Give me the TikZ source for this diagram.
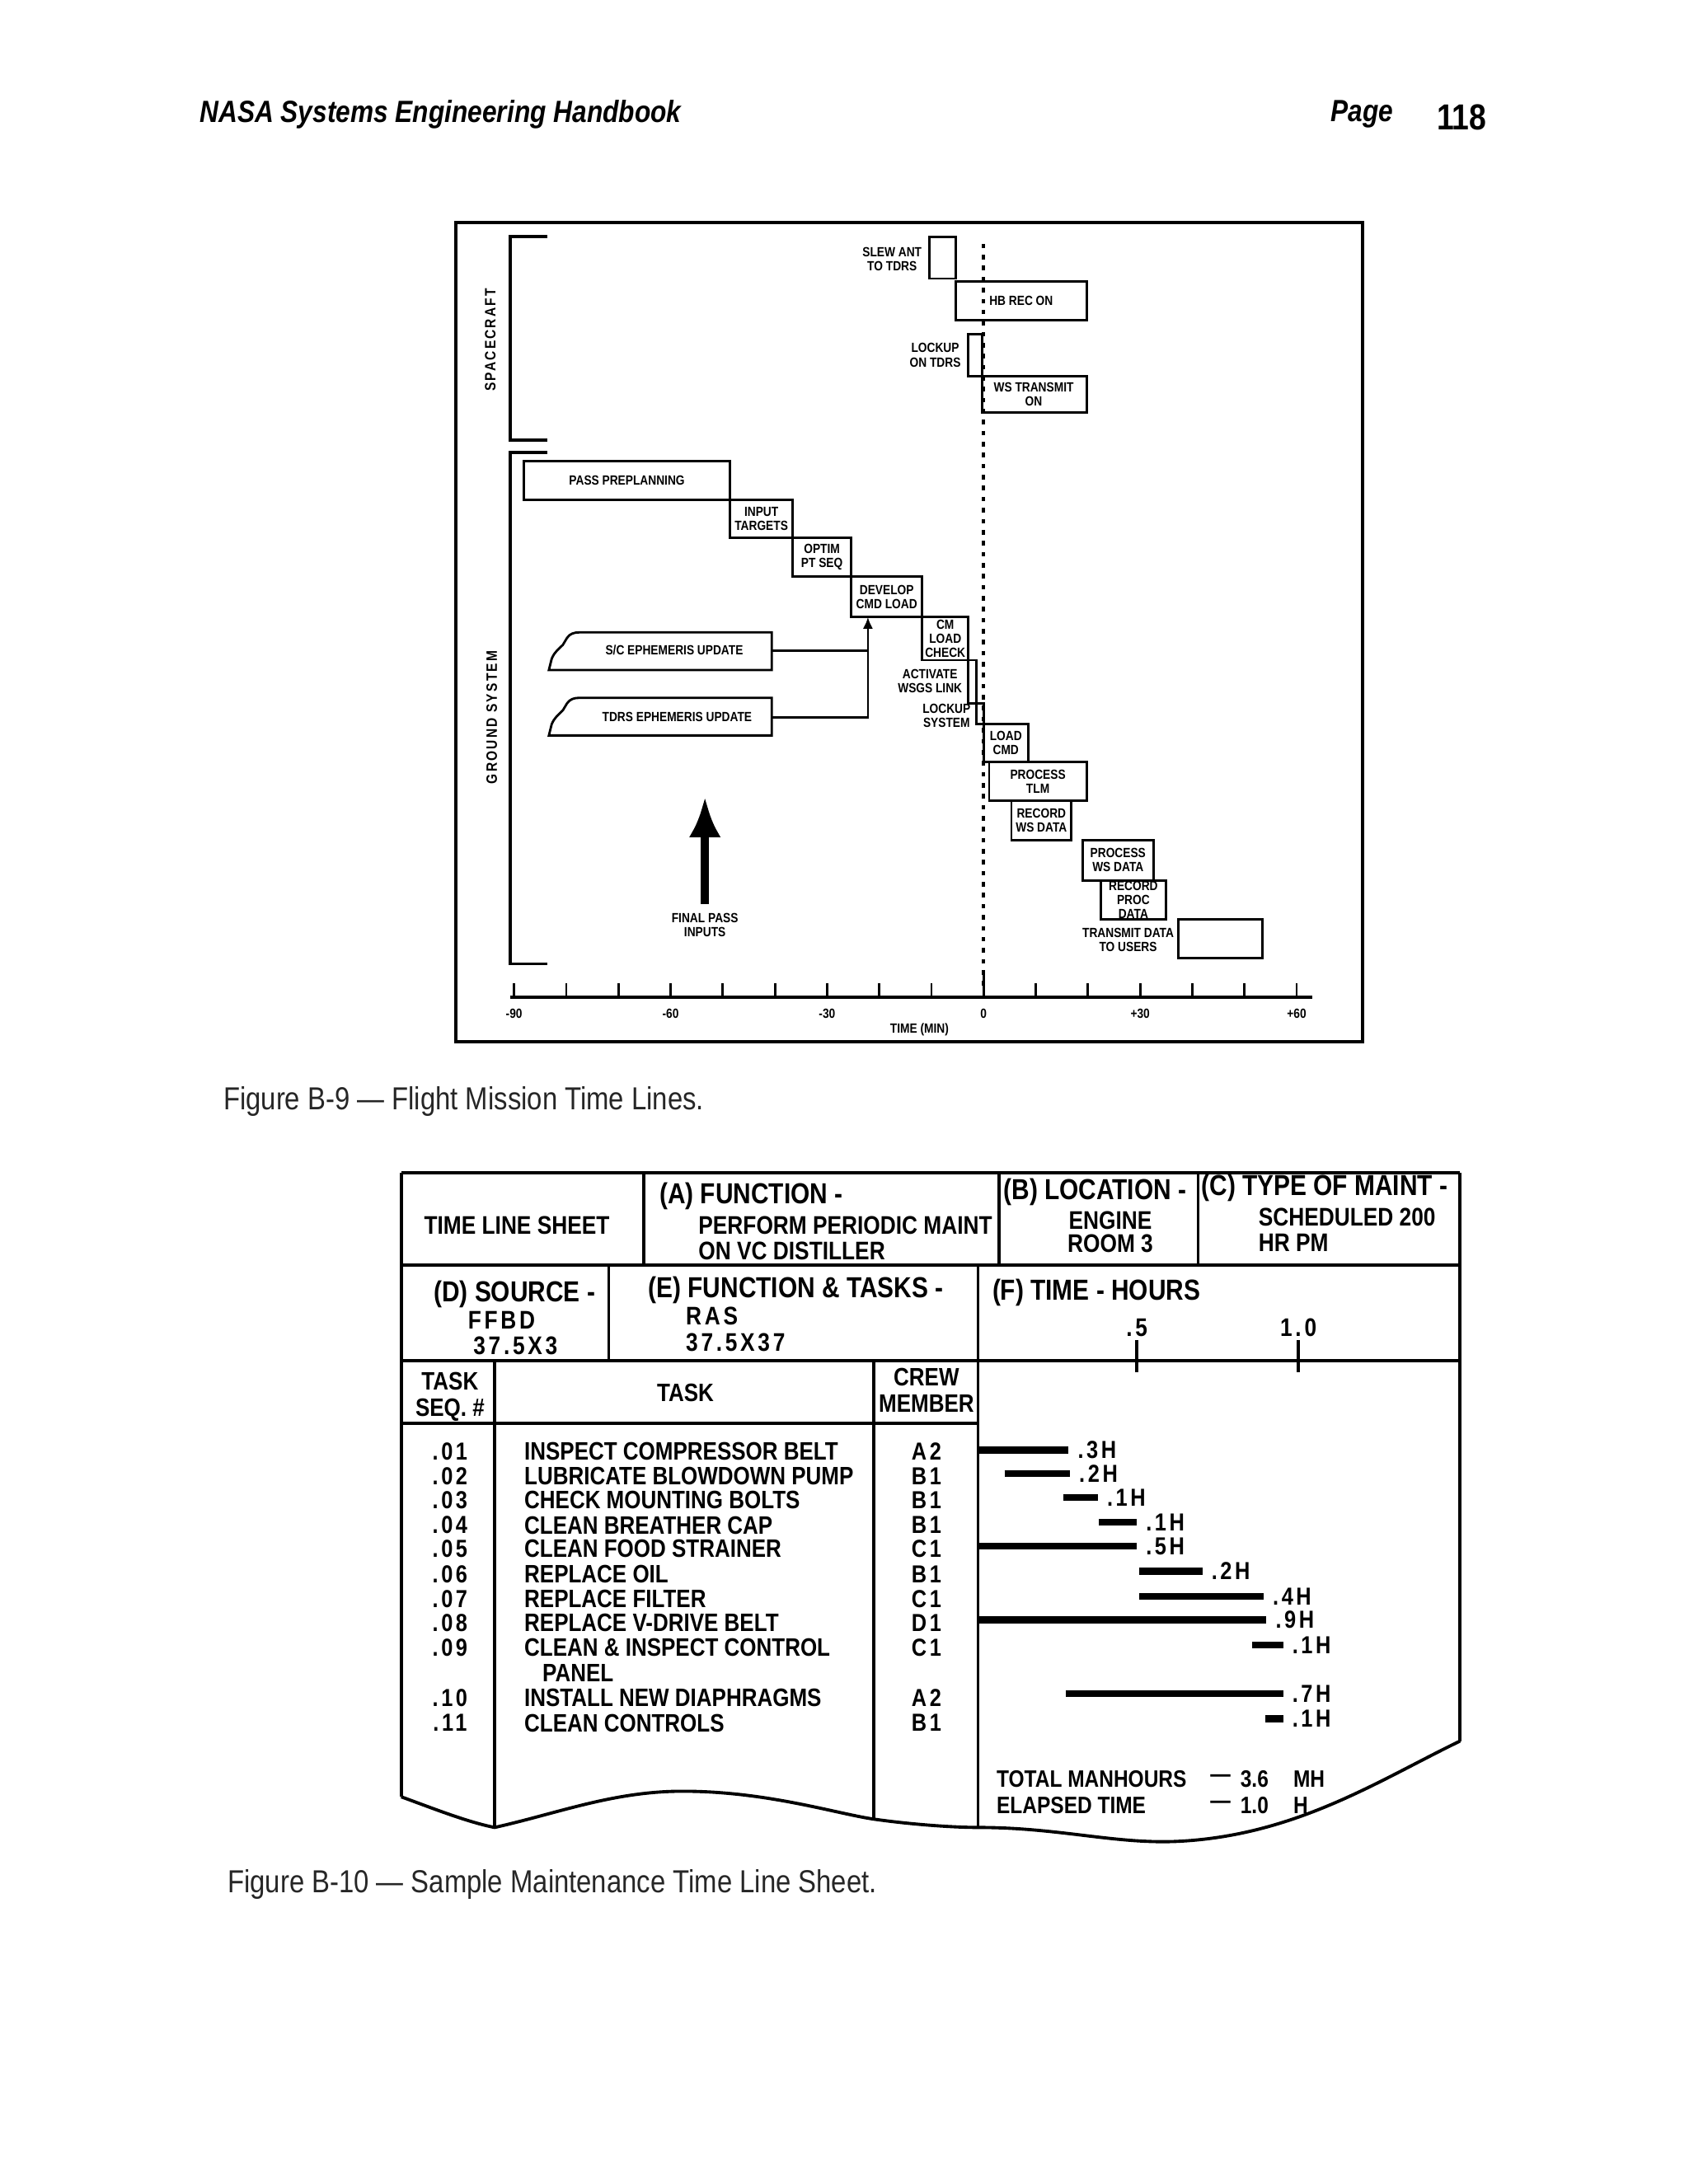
\documentclass[tikz,border=0pt]{standalone}
\usepackage{fontspec}
\setmainfont{Liberation Sans}
\newfontfamily\narrowf[FakeStretch=0.85]{Liberation Sans}
\newfontfamily\spacedf[FakeStretch=0.85,LetterSpace=12]{Liberation Sans}
\usepackage{tikz}
\usetikzlibrary{arrows.meta}

\tikzset{
  frm/.style={line width=1.1pt},
  bx/.style={line width=0.8pt},
  tl/.style={font=\narrowf\bfseries\fontsize{4.6}{4.9}\selectfont, align=center, inner sep=0pt},
  tk/.style={font=\narrowf\bfseries\fontsize{4.6}{5}\selectfont, inner sep=0pt},
  sidelbl/.style={font=\spacedf\bfseries\fontsize{5.2}{6}\selectfont, inner sep=0pt},
  zero/.style={line width=1pt, dash pattern=on 1.6pt off 2.2pt},
  hd/.style={font=\narrowf\bfseries\fontsize{10}{11}\selectfont, inner sep=0pt},
  sb/.style={font=\narrowf\bfseries\fontsize{8.8}{10}\selectfont, inner sep=0pt},
  sp/.style={font=\spacedf\bfseries\fontsize{8.8}{10}\selectfont, inner sep=0pt},
  rw/.style={font=\narrowf\bfseries\fontsize{8.7}{9}\selectfont, inner sep=0pt},
  rs/.style={font=\spacedf\bfseries\fontsize{8.5}{9}\selectfont, inner sep=0pt},
  tt/.style={font=\narrowf\bfseries\fontsize{8.2}{8.5}\selectfont, inner sep=0pt},
  hbar/.style={line width=2.4pt},
  hl/.style={rs, anchor=west, xshift=2pt},
  figcap/.style={font=\narrowf\fontsize{11}{12}\selectfont, text=black!85, inner sep=0pt, anchor=west},
  pghead/.style={font=\narrowf\bfseries\itshape\fontsize{10.6}{12}\selectfont, inner sep=0pt, anchor=west},
}

\begin{document}
\begin{tikzpicture}[x=0.0169cm, y=-0.0169cm, >=latex]
    \useasboundingbox (0,0) rectangle (1212,1568);

    % Page head
    \node[pghead] (hb) at (143,82) {NASA Systems Engineering Handbook};
    \node[pghead] (pg) at (955,82) {Page};
    \node[font=\narrowf\bfseries\fontsize{12.5}{14}\selectfont, inner sep=0pt, anchor=west] (pgn) at (1031,84) {118};

    % Figure B-9: frame and brackets
    \draw[frm] (327,160) rectangle (978,748);
    \draw[frm] (393,170) -- (366,170) -- (366,316) -- (393,316);
    \draw[frm] (393,325) -- (366,325) -- (366,692) -- (393,692);
    \node[sidelbl, rotate=90] (sc) at (352,244) {SPACECRAFT};
    \node[sidelbl, rotate=90] (gs) at (353,515) {GROUND SYSTEM};

    % Time zero
    \draw[zero] (706,175) -- (706,712);

    % Spacecraft events
    \draw[bx] (667,170) rectangle (686,200);
    \node[tl, anchor=east] (slew) at (662,186) {SLEW ANT\\TO TDRS};
    \draw[bx] (686,202) rectangle (780,230);
    \node[tl] (hbrec) at (733,216) {HB REC ON};
    \draw[bx] (695,240) rectangle (705,270);
    \node[tl, anchor=east] (lockon) at (690,255) {LOCKUP\\ON TDRS};
    \draw[bx] (705,270) rectangle (780,296);
    \node[tl] (wstx) at (742,283) {WS TRANSMIT\\ON};

    % Ground events
    \draw[bx] (376,331) rectangle (524,359);
    \node[tl] (pass) at (450,345) {PASS PREPLANNING};
    \draw[bx] (524,359) rectangle (569,386);
    \node[tl] (input) at (546.5,372.5) {INPUT\\TARGETS};
    \draw[bx] (569,386) rectangle (611,414);
    \node[tl] (optim) at (590,400) {OPTIM\\PT SEQ};
    \draw[bx] (611,414) rectangle (662,443);
    \node[tl] (devel) at (636.5,428.5) {DEVELOP\\CMD LOAD};
    \draw[bx] (662,443) rectangle (695,474);
    \node[tl] (cmchk) at (678.5,458.5) {CM\\LOAD\\CHECK};
    \draw[bx] (695,474) rectangle (701,505);
    \node[tl, anchor=east] (activ) at (691,489) {ACTIVATE\\WSGS LINK};
    \draw[bx] (701,505) rectangle (706,520);
    \node[tl, anchor=east] (locksys) at (697,514) {LOCKUP\\SYSTEM};
    \draw[bx] (706,520) rectangle (738,547);
    \node[tl] (loadcmd) at (722,533.5) {LOAD\\CMD};
    \draw[bx] (710,547) rectangle (780,575);
    \node[tl] (proctlm) at (745,561) {PROCESS\\TLM};
    \draw[bx] (726,575) rectangle (769,603);
    \node[tl] (recws) at (747.5,589) {RECORD\\WS DATA};
    \draw[bx] (777,603) rectangle (828,632);
    \node[tl] (procws) at (802.5,617.5) {PROCESS\\WS DATA};
    \draw[bx] (790,632) rectangle (837,660);
    \node[tl] (recproc) at (813.5,646) {RECORD\\PROC\\DATA};
    \draw[bx] (846,660) rectangle (906,688);
    \node[tl, anchor=east] (txusr) at (843,675) {TRANSMIT DATA\\TO USERS};

    % Ephemeris updates
    \draw[bx] (394,481) -- (396,473) .. controls (398,468) and (401,466) .. (404,463) -- (407,458) .. controls (409,455) and (412,454) .. (416,454) -- (554,454) -- (554,481) -- cycle;
    \node[tl] (sceph) at (484,467) {S/C EPHEMERIS UPDATE};
    \draw[bx] (394,528) -- (396,520) .. controls (398,515) and (401,513) .. (404,510) -- (407,505) .. controls (409,502) and (412,501) .. (416,501) -- (554,501) -- (554,528) -- cycle;
    \node[tl] (tdeph) at (486,515) {TDRS EPHEMERIS UPDATE};
    \coordinate (scR) at (554,467);
    \coordinate (tdR) at (554,515);
    \coordinate (jn) at (623,515);
    \coordinate (devB) at (623,443);
    \draw[bx] (scR) -- (scR -| jn);
    \draw[bx, -{Latex[length=4pt,width=3.5pt]}] (tdR) -- (jn) -- (devB);

    % Final pass inputs
    \node[tl] (fin) at (506,664) {FINAL PASS\\INPUTS};
    \coordinate (finTop) at (506,572);
    \draw[line width=3pt, shorten <=3pt, -{Latex[length=14pt,width=11pt]}] (fin.north) -- (finTop);

    % Time axis
    \draw[frm] (366,716) -- (942,716);
    \foreach \i in {0,...,15}
        \draw[line width=0.8pt] (369+37.45*\i,716) -- ++(0,-10);
    \draw[line width=0.8pt] (706,716) -- (706,700);
    \foreach \v/\k in {-90/0,-60/3,-30/6,0/9,+30/12,+60/15}
        \node[tk] (ax\k) at (369+37.45*\k,728) {\v};
    \node[tk] (axt) at (660,739) {TIME (MIN)};

    \node[figcap] (capa) at (160,791) {Figure B-9 — Flight Mission Time Lines.};

    % Figure B-10: sheet rulings
    \draw[frm] (288,842) -- (1048,842);
    \draw[frm] (288,842) -- (288,1290);
    \draw[frm] (1048,842) -- (1048,1250);
    \draw[frm] (288,908) -- (1048,908);
    \draw[frm] (288,977) -- (1048,977);
    \draw[frm] (288,1022) -- (702,1022);
    \draw[frm] (462,842) -- (462,908);
    \draw[frm] (717,842) -- (717,908);
    \draw[frm] (860,842) -- (860,908);
    \draw[frm] (437,908) -- (437,977);
    \draw[frm] (702,908) -- (702,1312);
    \draw[frm] (355,977) -- (355,1312);
    \draw[frm] (627,977) -- (627,1306);
    \draw[frm] (288,1290) .. controls (310,1298) and (335,1308) .. (355,1312)
        .. controls (400,1302) and (440,1286) .. (490,1286)
        .. controls (550,1286) and (600,1302) .. (627,1306)
        .. controls (655,1310) and (685,1312) .. (702,1312)
        .. controls (760,1312) and (800,1324) .. (845,1322)
        .. controls (930,1318) and (990,1278) .. (1048,1250);

    % Heading cells
    \node[sb] (tls) at (371,880) {TIME LINE SHEET};
    \node[hd, anchor=west] (fa) at (473,859) {(A) FUNCTION -};
    \node[sb, anchor=west] (fa2) at (501,880) {PERFORM PERIODIC MAINT};
    \node[sb, anchor=west] (fa3) at (501,898) {ON VC DISTILLER};
    \node[hd, anchor=west] (lb) at (720,856) {(B) LOCATION -};
    \node[sb] (lb2) at (797,876) {ENGINE};
    \node[sb] (lb3) at (797,893) {ROOM 3};
    \node[hd, anchor=west] (tc) at (862,853) {(C) TYPE OF MAINT -};
    \node[sb, anchor=west] (tc2) at (903,874) {SCHEDULED 200};
    \node[sb, anchor=west] (tc3) at (903,892) {HR PM};
    \node[hd, anchor=west] (sd) at (311,929) {(D) SOURCE -};
    \node[sp] (sd2) at (360,948) {FFBD};
    \node[sp] (sd3) at (370,966) {37.5X3};
    \node[hd, anchor=west] (fe) at (465,926) {(E) FUNCTION \& TASKS -};
    \node[sp, anchor=west] (fe2) at (492,945) {RAS};
    \node[sp, anchor=west] (fe3) at (492,964) {37.5X37};
    \node[hd, anchor=west] (th) at (712,928) {(F) TIME - HOURS};
    \node[sp] (t05) at (816,953) {.5};
    \node[sp] (t10) at (932,953) {1.0};
    \draw[line width=1pt] (816,962) -- (816,985);
    \draw[line width=1pt] (932,962) -- (932,985);

    % Column heads
    \node[rw, align=center] (hseq) at (323,1003) {TASK\\SEQ. \#};
    \node[rw] (htask) at (492,1000) {TASK};
    \node[rw, align=center] (hcrew) at (665,998) {CREW\\MEMBER};

    % Tasks
    \foreach \s/\t/\c/\y [count=\i] in {.01/INSPECT COMPRESSOR BELT/A2/1042,
        .02/LUBRICATE BLOWDOWN PUMP/B1/1060, .03/CHECK MOUNTING BOLTS/B1/1077,
        .04/CLEAN BREATHER CAP/B1/1095, .05/CLEAN FOOD STRAINER/C1/1112,
        .06/REPLACE OIL/B1/1130, .07/REPLACE FILTER/C1/1148,
        .08/REPLACE V-DRIVE BELT/D1/1165, .09/CLEAN \& INSPECT CONTROL/C1/1183,
        .10/INSTALL NEW DIAPHRAGMS/A2/1219, .11/CLEAN CONTROLS/B1/1237}{
        \node[rs] (s\i) at (323,\y) {\s};
        \node[rw, anchor=west] (t\i) at (376,\y) {\t};
        \node[rs] (c\i) at (665,\y) {\c};
    }
    \node[rw, anchor=west] (t9b) at (389,1201) {PANEL};

    % Time bars
    \foreach \a/\b/\y/\h [count=\i] in {702/767/1041/.3H, 721/768/1058/.2H,
        763/788/1075/.1H, 789/816/1093/.1H, 702/816/1110/.5H, 818/863/1128/.2H,
        818/907/1146/.4H, 702/909/1163/.9H, 899/921/1181/.1H, 765/921/1216/.7H,
        908/921/1234/.1H}
        \draw[hbar] (\a,\y) -- (\b,\y) node[hl] (h\i) {\h};

    % Totals
    \node[tt, anchor=west] (tot) at (715,1277) {TOTAL MANHOURS};
    \node[tt] (totd) at (876,1277) {—};
    \node[tt, anchor=west] (totv) at (890,1277) {3.6};
    \node[tt, anchor=west] (totu) at (928,1277) {MH};
    \node[tt, anchor=west] (ela) at (715,1296) {ELAPSED TIME};
    \node[tt] (elad) at (876,1296) {—};
    \node[tt, anchor=west] (elav) at (890,1296) {1.0};
    \node[tt, anchor=west] (elau) at (928,1296) {H};

    \node[figcap] (capb) at (163,1353) {Figure B-10 — Sample Maintenance Time Line Sheet.};
\end{tikzpicture}
\end{document}
